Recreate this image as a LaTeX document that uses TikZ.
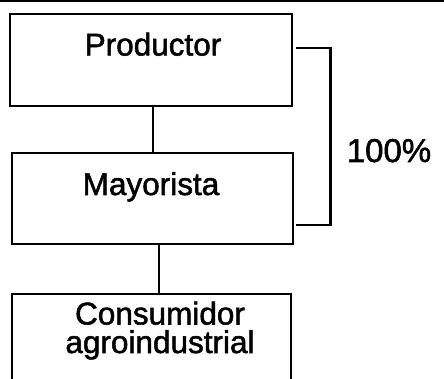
\documentclass[tikz,border=0pt]{standalone}
\usepackage{fontspec}
\setmainfont{Liberation Sans}
\newfontfamily\heavyfont{Liberation Sans}[FakeBold=1.6]
\begin{document}
\begin{tikzpicture}[x=1pt,y=-1pt,
  box/.style={draw=black,line width=2.8pt,rectangle,inner sep=0pt},
  conn/.style={draw=black,line width=2.8pt},
  lbl/.style={inner sep=0pt,anchor=base,font=\heavyfont\fontsize{31.5}{28.5}\selectfont,align=center}]
\useasboundingbox (0,0) rectangle (444,379);
\clip (0,0) rectangle (444,379);
\draw[line width=1.5pt] (0,1) -- (444,1);
\node[box,minimum width=282pt,minimum height=92pt] (prod) at (151,60) {};
\node[box,minimum width=281pt,minimum height=91pt] (mayo) at (152.5,198.5) {};
\node[box,minimum width=279pt,minimum height=110pt] (cons) at (151.5,349) {};
\node[lbl] (prodt) at (153,55.5) {Productor};
\node[lbl] (mayot) at (151,195) {Mayorista};
\node[lbl] (const) at (160,353) {Consumidor\\agroindustrial};
\node[lbl,font=\heavyfont\fontsize{33}{33}\selectfont] (pct) at (389,162) {100\%};
\draw[conn] ([xshift=2pt]prod.south) -- ([xshift=2pt]prod.south |- mayo.north);
\draw[conn] ([xshift=6.5pt]mayo.south) -- ([xshift=6.5pt]mayo.south |- cons.north);
\draw[conn] ([xshift=3pt,yshift=12pt]prod.east) -- ++(34,0) |- ([xshift=2pt,yshift=-26.5pt]mayo.east);
\end{tikzpicture}
\end{document}
